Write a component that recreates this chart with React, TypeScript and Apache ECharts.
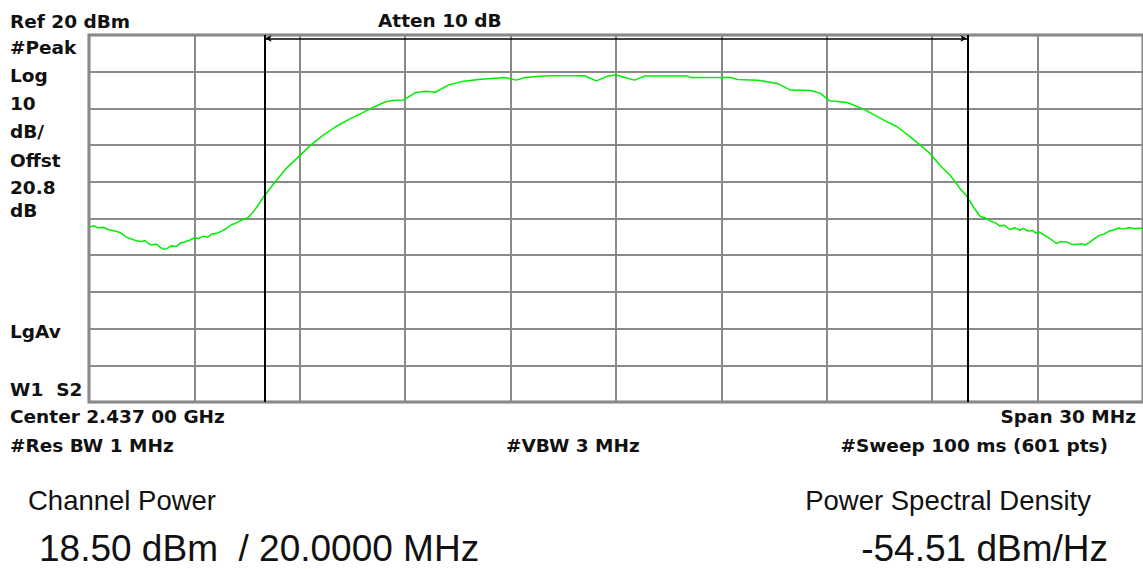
import React, { useEffect, useRef } from "react";
import * as echarts from "echarts";

const freqOffsetMHz = [
  -15.0, -14.85, -14.74, -14.6, -14.45, -14.26, -14.1, -13.95, -13.85, -13.7,
  -13.51, -13.4, -13.3, -13.22, -13.08, -12.95, -12.85, -12.75, -12.65, -12.51,
  -12.4, -12.28, -12.15, -11.99, -11.88, -11.75, -11.62, -11.5, -11.35, -11.24,
  -11.1, -10.95, -10.8, -10.65, -10.48, -10.35, -10.2, -10.04,
  -9.68, -9.39, -9.04, -8.69, -8.36, -7.98, -7.6, -7.22, -6.84, -6.56, -6.3,
  -6.04, -5.71, -5.42, -5.14, -4.76, -4.39, -3.91, -3.16, -2.83, -2.59, -1.93,
  -0.89, -0.56, -0.23, 0.01, 0.25, 0.53, 0.81, 2.04, 2.14, 3.27, 3.46, 4.03,
  4.59, 4.97, 5.54, 5.82, 6.07, 6.58, 7.05, 7.62, 8.0, 8.37, 8.66, 8.94, 9.22,
  9.51, 9.79,
  9.98, 10.17, 10.36, 10.5, 10.64, 10.8, 10.93, 11.05, 11.21, 11.35, 11.5,
  11.59, 11.72, 11.87, 11.95, 12.06, 12.2, 12.34, 12.45, 12.53, 12.65, 12.82,
  12.95, 13.1, 13.25, 13.35, 13.48, 13.62, 13.76, 13.9, 14.02, 14.14, 14.3,
  14.42, 14.6, 14.8, 15.0,
];
const traceDbm = [
  -32.3, -32.0, -32.6, -32.4, -33.0, -33.4, -33.9, -35.0, -35.4, -35.9,
  -36.3, -36.0, -36.9, -37.2, -37.0, -38.0, -38.4, -38.0, -37.4, -37.6,
  -36.7, -36.4, -36.0, -35.2, -35.5, -34.8, -35.1, -34.2, -34.0, -33.5,
  -32.8, -31.7, -31.2, -30.4, -29.8, -28.5, -26.6, -24.2,
  -19.8, -16.4, -13.2, -10.0, -7.5, -5.0, -3.0, -1.2, 0.6, 1.8, 2.2,
  2.3, 4.3, 4.7, 4.4, 6.4, 7.3, 7.9, 8.4, 7.7, 8.4, 8.9,
  8.9, 7.5, 8.8, 9.1, 8.4, 7.7, 8.8, 8.8, 8.4, 8.4, 7.9, 7.7,
  6.8, 5.0, 4.9, 4.1, 2.1, 1.6, -0.2, -3.2, -5.0, -7.7, -10.0, -12.3, -15.5,
  -18.2, -21.8,
  -23.9, -26.8, -29.4, -29.8, -30.6, -31.2, -32.1, -31.8, -33.0, -32.5, -33.2,
  -32.7, -33.4, -33.3, -34.0, -33.7, -34.6, -35.4, -36.2, -36.8, -36.3, -36.4,
  -37.0, -37.1, -36.9, -37.2, -36.5, -35.5, -34.6, -34.2, -33.5, -33.2, -32.6,
  -32.9, -32.5, -32.8, -32.6,
];

// Axis settings: reference level 20 dBm, 10 dB/div, span 30 MHz (±15 MHz)
const refLevelDbm = 20;
const bottomLevelDbm = -80;
const dbPerDiv = 10;
const spanHalfMHz = 15;
const freqPerDivMHz = 3;

// Channel-power integration band edges (MHz offset), 20 MHz channel
const channelEdgesMHz = [-10, 10];

// Annotation texts
const leftLabels = ["#Peak", "Log", "10", "dB/", "Offst", "20.8", "dB"];
const refLabel = "Ref 20 dBm";
const attenLabel = "Atten 10 dB";
const detectorLabel = "LgAv";
const traceLabel = "W1  S2";
const centerLabel = "Center 2.437 00 GHz";
const spanLabel = "Span 30 MHz";
const rbwLabel = "#Res BW 1 MHz";
const vbwLabel = "#VBW 3 MHz";
const sweepLabel = "#Sweep 100 ms (601 pts)";
const resultTitles = ["Channel Power", "Power Spectral Density"];
const resultValues = ["18.50 dBm  / 20.0000 MHz", "-54.51 dBm/Hz"];

export default function App() {
  const ref = useRef<HTMLDivElement>(null);

  useEffect(() => {
    if (!ref.current) return;
    const chart = echarts.init(ref.current, null, { renderer: "svg" });

    const boldFont = "bold 18.5px 'DejaVu Sans'";
    const bigFont = "27.5px 'Liberation Sans', Arial";
    const hugeFont = "37px 'Liberation Sans', Arial";
    const ink = "#111";

    const txt = (text: string, x: number, y: number, font: string, align = "left") => ({
      type: "text",
      x,
      y,
      silent: true,
      style: { text, font, fill: ink, textAlign: align, textVerticalAlign: "middle" },
    });

    const leftYs = [47.5, 75.5, 103.5, 131.5, 160, 187, 210.5];

    const graphics: any[] = [
      txt(refLabel, 10, 21, boldFont),
      txt(attenLabel, 378, 20.5, boldFont),
      ...leftLabels.map((l, i) => txt(l, 10, leftYs[i], boldFont)),
      txt(detectorLabel, 10, 331.5, boldFont),
      txt(traceLabel, 10, 389, boldFont),
      txt(centerLabel, 10, 416, boldFont),
      txt(spanLabel, 1136, 416, boldFont, "right"),
      txt(rbwLabel, 10, 445.5, boldFont),
      txt(vbwLabel, 506, 445.5, boldFont),
      txt(sweepLabel, 1108, 445.5, boldFont, "right"),
      txt(resultTitles[0], 28, 500, bigFont),
      txt(resultTitles[1], 1091, 500, bigFont, "right"),
      txt(resultValues[0], 39, 548, hugeFont),
      txt(resultValues[1], 1108, 548, hugeFont, "right"),
    ];

    const data = freqOffsetMHz.map((f, i) => [f, traceDbm[i]]);
    const gridColor = "#8a8a8a";
    const arrowY = refLevelDbm - 0.95;

    chart.setOption({
      animation: false,
      backgroundColor: "#ffffff",
      grid: {
        left: 89,
        top: 35,
        width: 1060,
        height: 367,
        show: true,
        borderColor: "#7a7a7a",
        borderWidth: 3,
        backgroundColor: "transparent",
      },
      xAxis: {
        type: "value",
        min: -spanHalfMHz,
        max: spanHalfMHz,
        interval: freqPerDivMHz,
        axisLabel: { show: false },
        axisLine: { show: false },
        axisTick: { show: false },
        splitLine: { show: true, lineStyle: { color: gridColor, width: 2 } },
      },
      yAxis: {
        type: "value",
        min: bottomLevelDbm,
        max: refLevelDbm,
        interval: dbPerDiv,
        axisLabel: { show: false },
        axisLine: { show: false },
        axisTick: { show: false },
        splitLine: { show: true, lineStyle: { color: gridColor, width: 2 } },
      },
      series: [
        {
          type: "line",
          data,
          showSymbol: false,
          silent: true,
          lineStyle: { color: "#00ee00", width: 1.5 },
          markLine: {
            silent: true,
            animation: false,
            label: { show: false },
            data: [
              {
                xAxis: channelEdgesMHz[0],
                symbol: "none",
                lineStyle: { color: "#000", width: 2, type: "solid" },
              },
              {
                xAxis: channelEdgesMHz[1],
                symbol: "none",
                lineStyle: { color: "#000", width: 2, type: "solid" },
              },
              [
                {
                  coord: [channelEdgesMHz[0], arrowY],
                  symbol: "arrow",
                  symbolSize: [5, 7],
                  lineStyle: { color: "#000", width: 1.5, type: "solid" },
                },
                { coord: [channelEdgesMHz[1], arrowY], symbol: "arrow", symbolSize: [5, 7] },
              ],
            ],
            symbol: ["none", "none"],
          },
        },
      ],
      graphic: graphics,
    });

    return () => chart.dispose();
  }, []);

  return (
    <div
      ref={ref}
      style={{ position: "fixed", left: 0, top: 0, width: 1143, height: 569, background: "#fff" }}
    />
  );
}
